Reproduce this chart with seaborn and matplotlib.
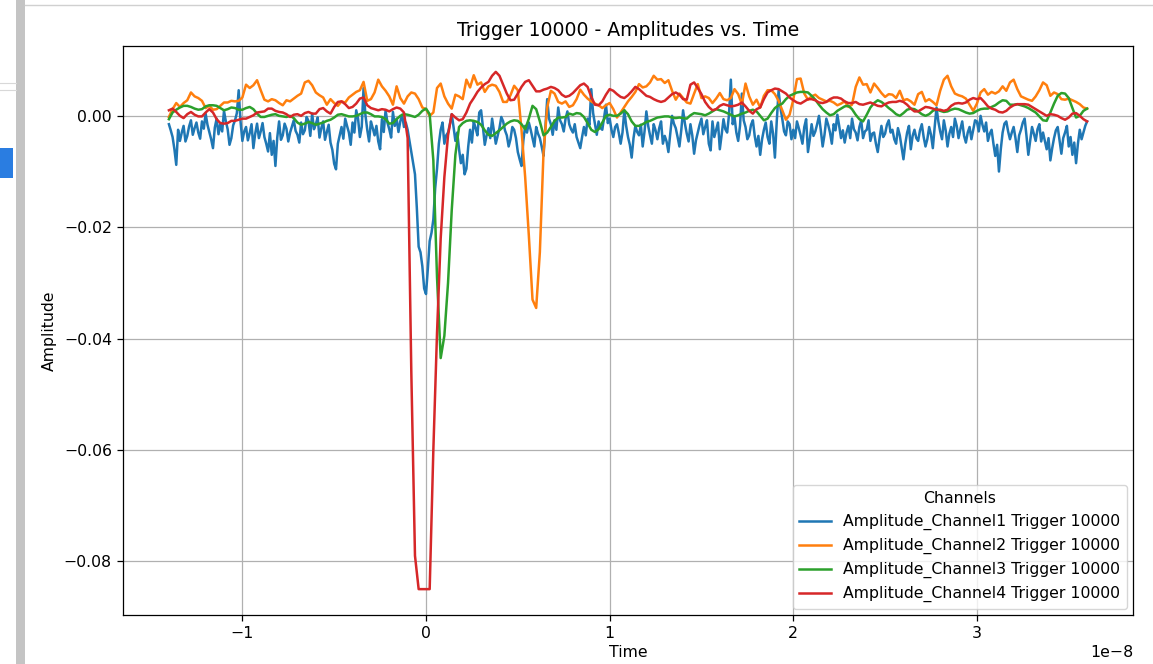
import numpy as np
import pandas as pd
import matplotlib
matplotlib.use("Agg")
import matplotlib.pyplot as plt
import seaborn as sns
from matplotlib.patches import Rectangle
from matplotlib.lines import Line2D

# ---------------- data (amplitudes in units of 1e-3, time grid in units of 1e-8 s) -------------
T_START = -1.40
T_STEP_CH1 = 0.01   # channel 1 sampled more finely (noisy trace)
T_STEP = 0.02       # channels 2-4

ch1 = [
    -1.5, -2.6, -3.8, -6.0, -8.8, -2.5, -4.5, -3.0, -1.8, -4.6, -3.6, -1.9, -0.8, -3.4, -2.2, -1.2, -3.0, -4.1, -1.0, -2.3,
    0.4, -1.6, -2.9, -4.2, -5.8, -2.1, -0.5, -3.3, -1.5, -2.8, 0.9, -1.0, -2.4, -5.2, -4.0, -1.7, -0.8, 0.5, 4.6, -1.0,
    -4.5, -2.8, -2.0, -4.4, -3.1, -1.5, -5.8, -3.2, -1.4, -4.0, -2.8, -1.3, -3.8, -5.0, -6.4, -3.1, -7.0, -4.5, -9.0, -3.9,
    -1.0, -4.3, -3.5, -1.4, -2.3, -4.6, -3.0, -1.9, -0.8, -2.7, -3.4, -4.8, -1.2, -3.3, -2.6, -0.2, -0.9, -3.6, 0.4, -2.4,
    -1.5, -0.3, -3.9, -2.2, -1.0, -4.3, -2.9, -1.6, -4.8, -6.1, -8.6, -9.6, -5.0, -3.5, -2.0, -4.1, -0.5, -1.8, -3.0, -5.2,
    -1.2, -3.0, 1.0, -0.5, -3.8, -2.0, 5.0, 0.2, -2.5, -4.6, -1.0, -2.2, -3.5, -1.8, -4.6, -6.0, -0.6, -2.9, 1.0, -1.2,
    -2.4, -3.9, 0.7, -1.8, -0.5, -2.9, -1.0, 0.2, -2.0, -1.2, -2.5, -4.5, -6.5, -8.5, -10.5, -16.5, -23.5, -24.5, -27.0, -31.0,
    -32.0, -27.5, -22.5, -21.0, -18.6, -13.0, -9.5, -5.0, -2.5, -1.2, -5.0, -3.5, -3.0, -1.5, 0.3, -2.0, -4.5, -3.0, -6.0, -8.5,
    -7.0, -10.5, -9.5, -5.5, -2.5, -4.8, -1.0, -2.2, -3.5, 0.6, 1.0, -2.0, -5.2, -3.5, -2.2, -4.0, -0.5, -2.8, -5.0, -3.6,
    -2.2, -0.2, -1.0, -2.6, -3.5, -5.5, -4.2, -2.0, -2.5, -4.0, -6.5, -7.8, -9.0, -4.5, -1.8, -3.0, -1.2, -2.5, -4.0, -5.5,
    -2.0, -3.2, -4.0, -5.5, -7.2, -2.0, 3.0, -0.5, -1.5, -3.4, -0.8, -2.5, 1.5, -0.8, -1.5, -2.8, -0.5, 0.8, -1.5, -2.4,
    -3.0, -1.5, -3.8, -4.8, -5.8, -3.8, -2.0, -3.5, -0.5, -1.6, 4.8, 0.5, -1.5, -3.4, -1.0, -2.2, -2.5, -0.3, 2.0, -1.3,
    -0.5, -2.5, -3.8, -2.0, -1.5, -3.1, -5.0, -3.0, 1.0, -1.8, -3.8, -5.2, -7.5, -4.0, -1.8, -2.9, -3.5, -1.6, -5.5, -2.8,
    0.8, -1.8, -3.5, -5.0, -1.5, -2.6, -4.2, -2.2, -1.0, -5.0, -3.6, -4.6, -6.5, -3.2, 0.0, -1.4, -2.2, -3.8, -5.5, -2.6,
    1.0, -1.4, -3.2, -4.6, -1.5, -3.5, -6.8, -4.4, -3.0, -1.6, -0.5, -3.3, -2.0, -0.8, -5.0, -6.2, -1.0, -3.8, -2.5, -1.2,
    -6.0, -3.4, -0.6, -2.4, -3.0, 0.2, 6.5, -1.5, -0.2, -3.0, -4.5, -1.8, 4.0, -0.8, -2.0, -4.2, -3.5, -1.6, -0.8, -3.6,
    -5.5, -3.6, -7.0, -4.2, -2.5, -1.2, -3.8, -5.0, -1.0, -3.2, -7.5, -1.0, 4.5, 1.5, -0.5, -2.8, -3.5, -1.0, -1.5, -4.2,
    -2.5, -4.0, -1.0, -2.2, -3.5, -5.0, -2.0, -0.6, -6.5, -4.2, -1.5, -3.6, -2.8, -1.5, 0.0, -2.6, -5.5, -3.4, -0.5, -1.6,
    -3.0, -5.0, -1.5, -2.6, 0.2, -1.8, -4.0, -2.6, -4.8, -3.0, -1.8, -4.0, -0.5, -2.4, -3.0, -4.4, -2.0, -0.8, -4.0, -2.8,
    -2.5, -0.8, -4.5, -3.2, -3.0, -5.0, -6.5, -4.0, -1.8, -3.8, -3.2, -1.6, -0.8, -3.0, -2.5, -4.2, -5.0, -2.2, -3.5, -5.6,
    -7.8, -5.0, -3.0, -1.8, -6.0, -3.6, -2.5, -4.0, -4.5, -2.6, -1.5, -3.8, -5.5, -4.2, -2.0, -3.4, -5.8, -2.0, 1.5, -1.0,
    -2.8, -4.2, -0.8, -2.6, -5.5, -3.2, -2.0, -3.8, -0.5, -1.8, -4.0, -2.4, -1.0, -3.6, -4.8, -3.0, -2.0, -4.2, -2.5, -0.8,
    -1.0, -2.8, 0.0, -1.6, -2.8, -1.2, -4.5, -3.2, -2.5, -5.0, -7.2, -5.2, -10.0, -6.0, -3.0, -1.4, -1.0, -2.8, -4.2, -3.0,
    -2.0, -4.0, -6.5, -3.5, -2.5, -1.2, -0.5, -3.6, -7.0, -4.5, -2.0, -3.2, -4.5, -2.4, -1.5, -4.6, -3.0, -4.5, -6.0, -4.0,
    -8.0, -5.8, -4.0, -2.6, -2.0, -4.4, -6.8, -4.0, -3.0, -1.8, -5.5, -3.8, -7.0, -4.8, -8.5, -5.0, -2.5, -4.2, -3.0, -1.8, -1.0,
]

ch2 = [
    -0.2, 1.2, 2.3, 1.6, 2.3, 2.8, 4.2, 3.5, 3.2, 2.7,
    1.4, 1.8, 1.1, 1.2, 1.8, 2.4, 2.4, 2.7, 2.6, 2.7,
    3.3, 5.6, 5.0, 5.5, 6.4, 4.6, 2.9, 2.6, 3.0, 2.8,
    2.3, 1.9, 2.8, 2.6, 3.1, 3.6, 4.0, 6.0, 6.3, 5.5,
    4.2, 3.7, 3.3, 2.0, 3.0, 2.3, 1.8, 2.6, 2.4, 3.3,
    3.8, 4.3, 4.6, 6.1, 2.7, 3.0, 4.2, 6.5, 5.3, 4.5,
    3.5, 2.0, 5.3, 3.2, 2.2, 3.5, 4.2, 4.0, 3.0, 1.5,
    1.2, 0.0, 0.6, 5.0, 5.8, 3.5, 2.2, 1.3, 3.8, 3.5,
    3.0, 6.5, 5.1, 7.3, 5.6, 6.0, 4.3, 5.3, 5.6, 5.4,
    4.3, 2.5, 2.5, 3.7, 5.4, 4.6, -2.5, -11.0, -21.5, -33.0,
    -34.5, -24.5, -6.5, 1.5, 4.5, 4.0, 2.5, 2.2, 2.6, 1.6,
    1.9, 3.0, 4.7, 3.8, 3.1, 2.6, 2.2, 1.9, 1.4, 1.9,
    2.3, 1.2, -0.3, 0.6, 1.6, 2.6, 3.4, 4.3, 5.7, 5.1,
    5.3, 6.0, 7.2, 6.5, 6.6, 5.9, 6.4, 4.5, 2.9, 4.0,
    3.2, 2.4, 2.2, 4.0, 5.7, 3.2, 3.5, 3.2, 2.3, 3.1,
    4.1, 3.0, 2.8, 3.2, 4.8, 3.9, 2.1, 5.8, 3.5, 2.0,
    2.9, 1.5, 3.6, 4.6, 4.6, 3.9, 2.7, 1.0, -0.7, 0.2,
    2.9, 6.6, 6.7, 4.0, 2.9, 3.5, 3.8, 3.2, 2.9, 2.6,
    2.7, 2.4, 1.9, 2.2, 2.6, 1.6, 2.0, 5.2, 6.9, 5.6,
    5.7, 4.2, 5.8, 5.0, 4.1, 3.4, 3.9, 3.8, 3.2, 4.5,
    2.8, 3.0, 2.6, 2.0, 3.9, 4.3, 2.6, 3.0, 2.5, 1.9,
    4.5, 6.5, 7.2, 5.3, 4.0, 3.7, 3.5, 3.1, 2.0, 0.9,
    2.2, 4.2, 4.8, 3.8, 4.3, 4.0, 4.4, 5.3, 4.5, 6.0,
    6.5, 4.8, 3.5, 3.2, 2.9, 2.7, 3.5, 4.6, 6.0, 5.5,
    3.6, 4.2, 3.9, 3.0, 2.9, 3.1, 2.8, 2.5, 2.1, 1.5, 1.3,
]

ch3 = [
    -0.6, 0.6, 1.1, 1.5, 1.8, 1.8, 1.6, 1.3, 1.1, 1.2,
    1.7, 1.9, 1.9, 1.8, 1.4, 1.0, 1.2, 1.5, 1.4, 1.1,
    1.1, 1.4, 1.6, 1.2, 0.4, -0.2, -0.2, 0.0, 0.2, 0.3,
    0.0, -0.1, -0.2, 0.0, -0.4, -1.2, -1.6, -1.4, -1.1, -1.3,
    -1.6, -1.4, -1.2, -0.9, -0.7, -0.3, 0.2, 0.3, 0.1, -0.1,
    -0.1, 0.0, 0.3, 0.6, 0.6, 0.3, -0.1, -0.1, -0.2, -0.6,
    -1.4, -1.3, -0.6, 0.0, 0.3, 0.2, 0.0, -0.2, 0.2, 0.9,
    1.3, 0.3, -8.0, -29.0, -43.5, -39.5, -30.0, -17.0, -7.0, -2.0,
    -1.3, -0.9, -0.8, -0.9, -1.1, -1.6, -2.6, -3.4, -3.6, -3.1,
    -2.6, -2.0, -1.4, -1.0, -0.8, -0.9, -1.5, -2.4, -0.5, 1.8,
    1.2, -1.0, -3.5, -3.0, -2.0, -0.9, -0.3, -0.3, -0.2, 0.4,
    0.2, 0.5, 0.4, -0.2, -1.3, -2.5, -2.9, -2.4, -1.2, 0.0,
    0.2, 0.0, 0.0, 0.4, 1.0, 0.3, -1.0, -1.8, -1.8, -1.5,
    -1.1, -0.9, -0.6, -0.3, -0.2, -0.1, -0.1, -0.3, -0.4, -0.3,
    -0.4, -0.5, 0.1, 0.5, 0.4, 0.3, 0.1, 0.4, 0.8, 1.2,
    1.0, 0.8, 0.5, 0.2, -0.1, 0.1, 0.4, 0.6, 0.9, 1.1,
    0.8, 0.0, -0.8, -0.5, 0.5, 1.4, 1.9, 2.2, 3.0, 3.6,
    3.9, 4.2, 4.3, 4.3, 4.2, 3.6, 2.9, 2.0, 1.2, 0.6,
    0.1, 0.3, 0.9, 1.3, 1.7, 1.8, 1.2, 0.2, -0.6, -1.0,
    0.2, 1.5, 2.3, 2.8, 2.5, 2.0, 1.4, 0.9, 0.3, 0.0,
    0.5, 1.1, 1.3, 1.2, 0.8, 0.3, 0.0, 0.3, 0.9, 1.2,
    0.9, 0.7, 0.8, 1.1, 1.3, 1.2, 0.9, 0.6, 0.4, 0.5,
    0.9, 1.2, 1.3, 1.3, 1.6, 1.9, 2.4, 2.8, 2.7, 2.0,
    2.0, 2.1, 1.9, 1.7, 1.4, 1.0, 0.6, -0.1, -0.8, -0.9,
    0.6, 2.2, 3.6, 4.1, 4.0, 3.2, 1.4, -0.3, 0.0, 0.9, 1.3,
]

ch4 = [
    1.0, 1.3, 0.7, 0.0, -0.4, 0.3, 0.7, 0.2, -0.1, -0.1,
    0.6, 1.2, 0.6, -0.6, -1.3, -1.4, -1.3, -0.9, -0.9, -0.7,
    -0.5, -0.5, -0.2, 0.1, 0.6, 0.7, 0.8, 1.3, 1.3, 0.9,
    0.7, 0.6, 0.3, -0.2, 0.2, 0.3, 0.0, 0.5, 0.7, 0.4,
    0.4, 1.2, 1.4, 0.8, 0.4, 1.6, 2.5, 2.6, 2.1, 1.4,
    1.6, 2.2, 3.1, 3.3, 1.9, 1.4, 1.2, 1.0, 1.2, 1.1,
    0.8, 1.2, 1.5, 1.3, 0.6, -4.0, -46.0, -79.0, -85.0, -85.0,
    -85.0, -85.0, -60.0, -39.0, -22.0, -11.0, -3.5, 0.3, -0.3, -0.8,
    -0.6, 0.6, 2.2, 3.2, 4.3, 5.1, 5.7, 6.1, 7.2, 7.9,
    7.2, 5.6, 4.0, 2.8, 2.9, 4.0, 5.2, 6.1, 6.4, 5.4,
    4.4, 4.4, 4.7, 4.9, 5.2, 5.0, 4.6, 3.8, 3.4, 3.6,
    4.1, 4.8, 5.5, 5.8, 5.2, 3.4, 2.0, 1.9, 2.6, 3.8,
    4.8, 4.5, 3.9, 3.4, 3.2, 3.7, 4.4, 5.2, 4.8, 4.2,
    3.6, 3.4, 3.0, 2.7, 2.5, 2.7, 3.3, 3.9, 4.2, 3.8,
    3.0, 2.9, 5.6, 6.0, 5.0, 3.9, 2.5, 1.6, 1.0, 1.2,
    1.8, 2.1, 1.9, 1.7, 1.8, 2.0, 2.4, 1.7, 0.9, 0.4,
    1.2, 1.5, 3.0, 4.2, 4.6, 4.9, 4.8, 4.4, 4.0, 3.3,
    2.8, 2.4, 2.2, 2.6, 3.0, 3.0, 2.8, 2.4, 2.3, 2.5,
    3.0, 3.3, 3.3, 3.1, 2.6, 2.3, 2.3, 2.5, 2.1, 2.0,
    2.2, 2.4, 2.1, 1.8, 1.7, 2.1, 2.4, 2.5, 2.5, 2.7,
    2.5, 2.0, 1.3, 0.8, 0.8, 1.2, 1.6, 1.5, 1.3, 1.1,
    1.1, 0.9, 1.1, 1.8, 2.2, 2.3, 2.2, 2.4, 2.9, 3.2,
    3.0, 3.2, 2.5, 1.7, 1.3, 1.1, 0.7, 0.6, 0.9, 1.5,
    1.9, 2.1, 2.1, 2.1, 2.0, 1.6, 1.2, 0.8, 0.4, 0.0,
    0.3, 0.2, 0.0, -0.4, -0.7, -0.3, 0.4, 0.5, 0.0, -0.6, -1.0,
]

channel_names = [
    "Amplitude_Channel1 Trigger 10000",
    "Amplitude_Channel2 Trigger 10000",
    "Amplitude_Channel3 Trigger 10000",
    "Amplitude_Channel4 Trigger 10000",
]
channel_values = [ch1, ch2, ch3, ch4]
channel_steps = [T_STEP_CH1, T_STEP, T_STEP, T_STEP]
colors = ["#1f77b4", "#ff7f0e", "#2ca02c", "#d62728"]

# ---------------- build long table ----------------
frames = []
for name, vals, step in zip(channel_names, channel_values, channel_steps):
    n = len(vals)
    t = (T_START + step * np.arange(n)) * 1e-8
    frames.append(pd.DataFrame({"Time": t, "Amplitude": np.array(vals) * 1e-3, "Channel": name}))
df = pd.concat(frames, ignore_index=True)

# ---------------- figure ----------------
FS = 11.3
plt.rcParams.update({
    "axes.linewidth": 0.9,
    "xtick.major.size": 4.0,
    "ytick.major.size": 4.0,
    "xtick.major.width": 0.9,
    "ytick.major.width": 0.9,
    "xtick.major.pad": 4.0,
    "ytick.major.pad": 4.0,
})

W, H = 1153, 664
fig = plt.figure(figsize=(W / 100, H / 100), dpi=100)
fig.patch.set_facecolor("white")
ax = fig.add_axes([123 / W, 1 - 615 / H, (1133 - 123) / W, (615 - 46) / H])

sns.lineplot(data=df, x="Time", y="Amplitude", hue="Channel", hue_order=channel_names,
             palette=colors, linewidth=1.8, estimator=None, ax=ax)

ax.grid(True, color="#b0b0b0", linewidth=0.9)
ax.set_axisbelow(True)
ax.set_title("Trigger 10000 - Amplitudes vs. Time", fontsize=13.6, pad=7)
ax.set_xlabel("Time", fontsize=FS, labelpad=3)
ax.set_ylabel("Amplitude", fontsize=FS, labelpad=5)
ax.tick_params(labelsize=FS)
ax.xaxis.get_offset_text().set_fontsize(FS)
leg = ax.legend(title="Channels", loc="lower right", fontsize=FS, title_fontsize=FS,
                borderaxespad=0.4)
for line in leg.get_lines():
    line.set_linewidth(1.8)

# ---------------- screenshot surroundings (decoration) ----------------
fig.patches.append(Rectangle((16 / W, 0), 9 / W, 1, transform=fig.transFigure,
                             facecolor="#c4c4c4", edgecolor="none", zorder=0))
fig.patches.append(Rectangle((0, 1 - 178 / H), 13 / W, 30 / H, transform=fig.transFigure,
                             facecolor="#2a7de1", edgecolor="none", zorder=0))
fig.lines.append(Line2D([25 / W, 1], [1 - 5 / H, 1 - 5 / H], transform=fig.transFigure,
                        color="#d0d0d0", linewidth=1.0))
fig.lines.append(Line2D([0, 16 / W], [1 - 83 / H, 1 - 83 / H], transform=fig.transFigure,
                        color="#d8d8d8", linewidth=0.8))
fig.lines.append(Line2D([0, 16 / W], [1 - 90 / H, 1 - 90 / H], transform=fig.transFigure,
                        color="#d8d8d8", linewidth=0.8))

fig.savefig("out.png", dpi=100)
